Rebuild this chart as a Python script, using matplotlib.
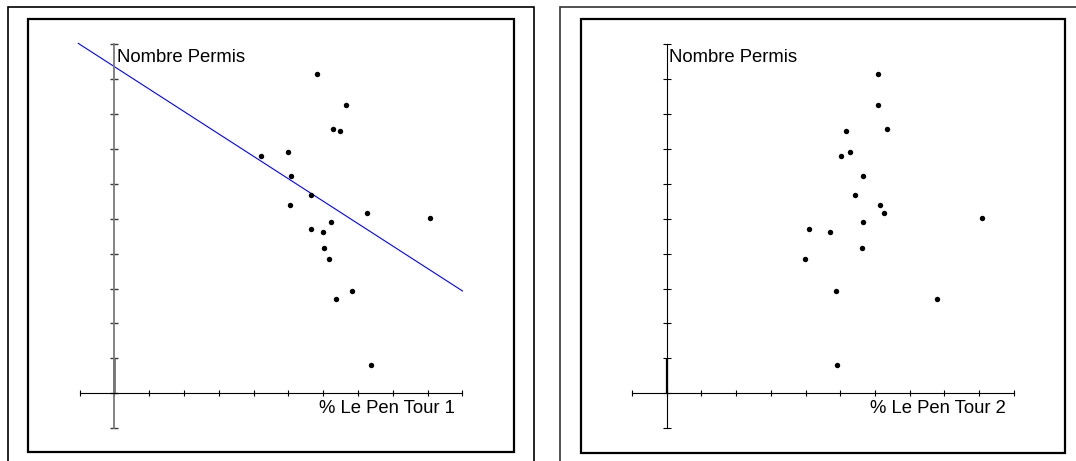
import matplotlib
matplotlib.use("Agg")
import matplotlib.pyplot as plt
from matplotlib.patches import Rectangle
import numpy as np

plt.rcParams['font.family'] = ['Liberation Sans', 'DejaVu Sans']

# values, in tick units
nb_permis = [9.13, 8.26, 7.57, 7.50, 6.79, 6.90, 6.23, 5.67, 5.40, 5.17,
             5.03, 4.90, 4.70, 4.63, 4.17, 3.84, 2.94, 2.70, 0.81]
lepen_t1 = [5.83, 6.66, 6.29, 6.47, 4.20, 4.99, 5.06, 5.66, 5.03, 7.27,
            9.07, 6.23, 5.66, 5.99, 6.03, 6.16, 6.83, 6.37, 7.36]
lepen_t2 = [6.09, 6.09, 6.36, 5.16, 5.02, 5.27, 5.66, 5.42, 6.15, 6.26,
            9.10, 5.66, 4.09, 4.72, 5.62, 3.99, 4.88, 7.79, 4.92]

# blue line on the first panel
fit_slope = -0.642
fit_intercept = 9.35
fit_x = [-1.04, 10.0]

ticks = list(range(-1, 11))
x_labels = ["% Le Pen Tour 1", "% Le Pen Tour 2"]
y_label = "Nombre Permis"

W, H = 1076, 461
fig = plt.figure(figsize=(W / 100, H / 100), dpi=100)


def px_rect(x0, y0, x1, y1, lw, color):
    # rectangle given in pixel coords from top-left
    r = Rectangle((x0 / W, 1 - y1 / H), (x1 - x0) / W, (y1 - y0) / H,
                  transform=fig.transFigure, fill=False, lw=lw,
                  edgecolor=color, clip_on=False)
    fig.add_artist(r)


# outer and inner frames
px_rect(7.5, 6.5, 534, 470, 1.2, 'black')
px_rect(560, 6.5, 1090, 470, 1.2, '#333333')
px_rect(28, 19, 514, 452, 1.6, 'black')
px_rect(581, 19, 1065, 453, 1.6, 'black')


def make_panel(x0_px, unit_px, xs, xlabel, left_gray):
    ax = fig.add_axes([(x0_px - 2.5 * unit_px) / W, (461 - 452.7) / H,
                       14 * unit_px / W, 12.4 * 34.93 / H])
    ax.set_xlim(-2.5, 11.5)
    ax.set_ylim(-1.7, 10.7)
    ax.patch.set_visible(False)
    for s in ['top', 'right']:
        ax.spines[s].set_visible(False)
    for s in ['left', 'bottom']:
        ax.spines[s].set_position(('data', 0))
        ax.spines[s].set_bounds(-1, 10)
    ax.set_xticks(ticks)
    ax.set_yticks(ticks)
    ax.set_xticklabels([])
    ax.set_yticklabels([])
    ax.spines['bottom'].set_linewidth(0.8)
    ax.tick_params(axis='x', direction='inout', length=5, width=0.8,
                   color='black')
    if left_gray:
        ax.spines['left'].set_color('#7a7a7a')
        ax.spines['left'].set_linewidth(1.3)
        ax.tick_params(axis='y', direction='inout', length=6, width=1.0,
                       color='#3a3a3a')
        ax.plot([0, 0], [0, 1], color='#555555', lw=1.8, solid_capstyle='butt')
    else:
        ax.spines['left'].set_linewidth(0.8)
        ax.tick_params(axis='y', direction='inout', length=6, width=0.8,
                       color='black')
        ax.plot([0, 0], [0, 1], color='black', lw=1.6, solid_capstyle='butt')

    ax.plot(xs, nb_permis, 'o', color='black', ms=3.9, mec='none',
            clip_on=False, zorder=5)
    ax.text(0.07, 9.48, y_label, fontsize=13.3, va='baseline', ha='left')
    ax.text(9.77, -0.56, xlabel, fontsize=13.3, va='baseline', ha='right')
    return ax


ax1 = make_panel(114.5, 34.8, lepen_t1, x_labels[0], True)
lx = np.array(fit_x)
ax1.plot(lx, fit_slope * lx + fit_intercept, color='#0000ff', lw=0.8,
         clip_on=False)

ax2 = make_panel(666.7, 34.7, lepen_t2, x_labels[1], False)

fig.savefig("out.png", dpi=100)
